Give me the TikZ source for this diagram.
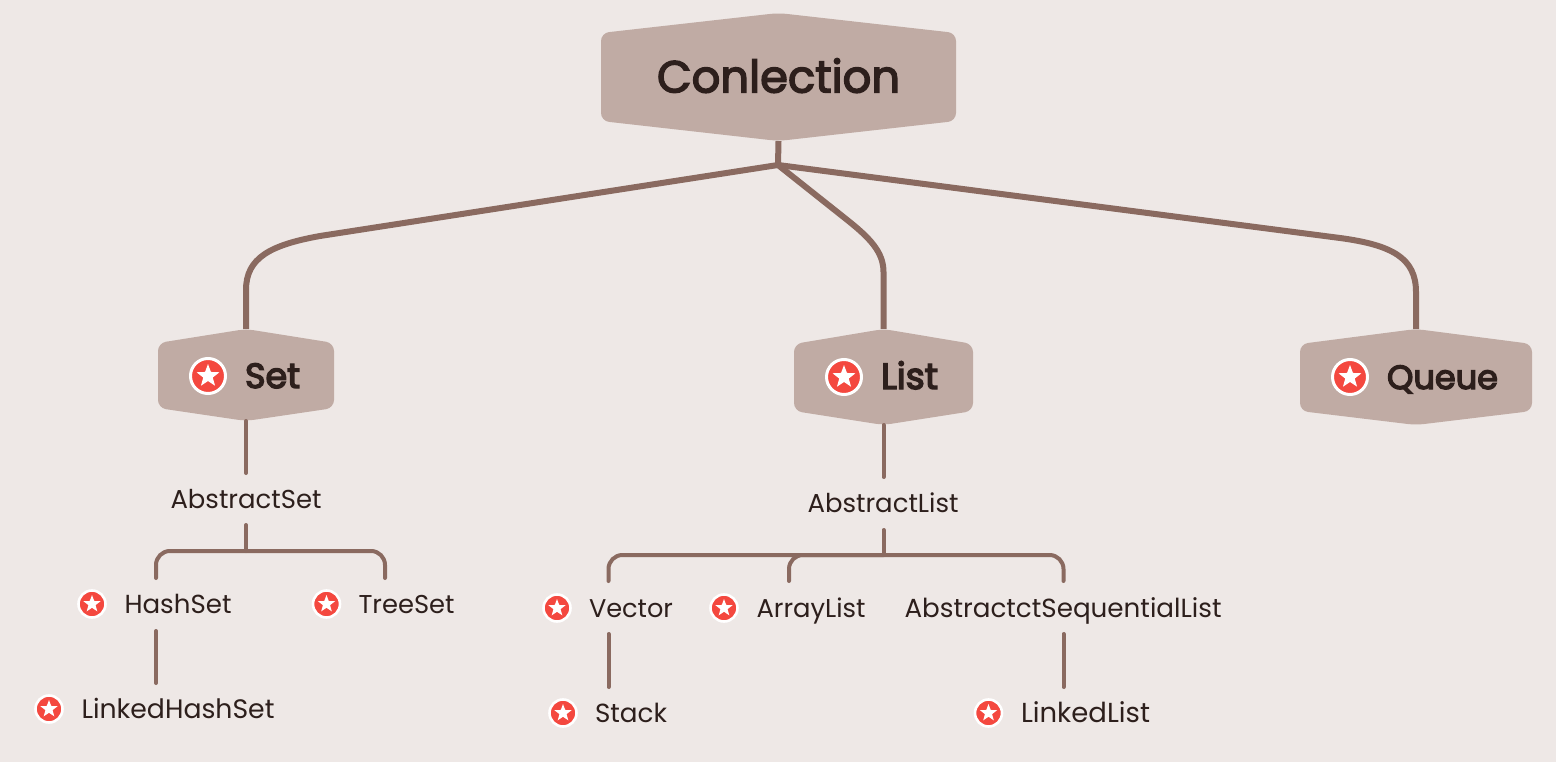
\documentclass[tikz,border=0pt]{standalone}
\usepackage{fontspec}
\setmainfont{Poppins}
\newfontfamily\headfont[FakeBold=3.2]{Poppins}
\newfontfamily\subfont[FakeBold=4]{Poppins}
\usepackage{graphicx}
\usetikzlibrary{shapes.geometric}
\definecolor{bgc}{HTML}{EEE8E6}
\definecolor{hexc}{HTML}{C0ABA4}
\definecolor{linec}{HTML}{8A6A60}
\definecolor{textc}{HTML}{2D1F1C}
\definecolor{redc}{HTML}{F4483F}
\tikzset{
  slot/.style={inner sep=0pt,outer sep=0pt,minimum height=53pt},
  hexfill/.style={fill=hexc,rounded corners=8pt},
  thick conn/.style={draw=linec,line width=6pt,line join=round},
  thin conn/.style={draw=linec,line width=4pt,line cap=round,line join=round},
  label/.style={inner sep=0pt,outer sep=0pt,anchor=base west,text=textc},
  disc/.style={circle,fill=redc,draw=white,inner sep=0pt,line width=#1},
  starmark/.style={star,star points=5,star point ratio=2.4,fill=white,inner sep=0pt}
}
% name, x-left, x-right, y-top, y-shoulder-top, y-shoulder-bottom, y-bottom
\newcommand{\hexbox}[7]{%
  \pgfmathsetmacro{\cxx}{(#2+#3)/2}%
  \pgfmathsetmacro{\cyy}{(#4+#7)/2}%
  \fill[hexfill] (#2,#5) -- (\cxx,#4) -- (#3,#5) -- (#3,#6) -- (\cxx,#7) -- (#2,#6) -- cycle;
  \pgfmathsetmacro{\ww}{#3-#2}\pgfmathsetmacro{\hh}{#7-#4}%
  \node[inner sep=0pt,outer sep=0pt,minimum width=\ww pt,minimum height=\hh pt] (#1) at (\cxx,\cyy) {};
}
% name, x, baseline, width, text
\newcommand{\lbl}[5]{\node[label] (#1) at (#2,#3) {\resizebox{#4pt}{!}{#5}};}
\newcommand{\bigicon}[3]{%
  \node[disc=3pt,minimum size=35pt] (#1) at (#2,#3) {};
  \node[starmark,minimum size=24pt] (#1s) at (#2,#3) {};}
\newcommand{\smallicon}[3]{%
  \node[disc=2.6pt,minimum size=27pt] (#1) at (#2,#3) {};
  \node[starmark,minimum size=18pt] (#1s) at (#2,#3) {};}
\begin{document}
\begin{tikzpicture}[x=1pt,y=-1pt]
\useasboundingbox (0,0) rectangle (1556,762);
\fill[bgc] (0,0) rectangle (1556,762);

\hexbox{coll}{601}{956}{13}{33}{121}{141}
\hexbox{set}{158}{334}{329}{343}{408}{421}
\hexbox{list}{794}{973}{329}{344}{411}{425}
\hexbox{queue}{1300}{1532}{329}{344}{411}{425}

\coordinate (hub) at (778,165);
\coordinate (setA) at (320,236);
\coordinate (setB) at (246,290);
\coordinate (listA) at (846,219);
\coordinate (listB) at (883.5,272);
\coordinate (queueA) at (1340,238);
\coordinate (queueB) at (1416,292);
\draw[thick conn] (coll.south) -- (hub);
\draw[thick conn] (hub) -- (setA) .. controls (270,245) and (246,258) .. (setB) -- (set.north);
\draw[thick conn] (hub) -- (listA) .. controls (870,238) and (883.5,252) .. (listB) -- (list.north);
\draw[thick conn] (hub) -- (queueA) .. controls (1392,245) and (1416,258) .. (queueB) -- (queue.north);

\lbl{colltext}{657}{92.5}{243}{\headfont Conlection}
\bigicon{seticon}{208}{376}
\lbl{settext}{245}{388}{55}{\subfont Set}
\bigicon{listicon}{844}{377}
\lbl{listtext}{881}{389}{57}{\subfont List}
\bigicon{queueicon}{1350}{377}
\lbl{queuetext}{1387}{389}{111}{\subfont Queue}

% slots: north and south ends of the lower connectors
\node[slot,minimum width=152pt,minimum height=52pt] (aset) at (246,499) {};
\node[slot,minimum width=152pt,minimum height=53pt] (alist) at (883.5,503.5) {};
\node[slot,minimum width=156pt] (hashset) at (156,604.5) {};
\node[slot,minimum width=130pt] (treeset) at (385,604.5) {};
\node[slot,minimum width=240pt] (linkedhs) at (156,709.5) {};
\node[slot,minimum width=130pt] (vector) at (608.5,607.5) {};
\node[slot,minimum width=156pt] (arraylist) at (789,607.5) {};
\node[slot,minimum width=317pt] (absseq) at (1063.5,607.5) {};
\node[slot,minimum width=118pt] (stack) at (608.5,713.5) {};
\node[slot,minimum width=175pt] (linkedlist) at (1063.5,713.5) {};

\coordinate (setjoin) at (246,551);
\coordinate (listjoin) at (883.5,555);

\draw[thin conn] (set.south) -- (aset.north);
\draw[thin conn] (aset.south) -- (setjoin);
\draw[thin conn,rounded corners=14pt] (hashset.north) -- (hashset.north |- setjoin) -- (treeset.north |- setjoin) -- (treeset.north);
\draw[thin conn] (hashset.south) -- (linkedhs.north);

\draw[thin conn] (list.south) -- (alist.north);
\draw[thin conn] (alist.south) -- (listjoin);
\draw[thin conn,rounded corners=14pt] (vector.north) -- (vector.north |- listjoin) -- (absseq.north |- listjoin) -- (absseq.north);
\draw[thin conn,rounded corners=14pt] (arraylist.north) -- (arraylist.north |- listjoin) -- (listjoin);
\draw[thin conn] (vector.south) -- (stack.north);
\draw[thin conn] (absseq.south) -- (linkedlist.north);

\lbl{asettext}{170.5}{508}{151}{AbstractSet}
\lbl{alisttext}{807.5}{512}{151}{AbstractList}
\smallicon{hashicon}{92}{604}
\lbl{hashtext}{124.5}{613}{107}{HashSet}
\smallicon{treeicon}{326.5}{604}
\lbl{treetext}{358.5}{613}{96}{TreeSet}
\smallicon{lhsicon}{49}{709}
\lbl{lhstext}{81.5}{718}{193}{LinkedHashSet}
\smallicon{vecicon}{557}{608}
\lbl{vectext}{589}{617}{84}{Vector}
\smallicon{arricon}{724}{608}
\lbl{arrtext}{756.5}{617}{109}{ArrayList}
\lbl{abstext}{904.5}{617}{317}{AbstractctSequentialList}
\smallicon{stackicon}{563}{713}
\lbl{stacktext}{595}{722}{72}{Stack}
\smallicon{llicon}{988.5}{713}
\lbl{lltext}{1021}{722}{129}{LinkedList}
\end{tikzpicture}
\end{document}
